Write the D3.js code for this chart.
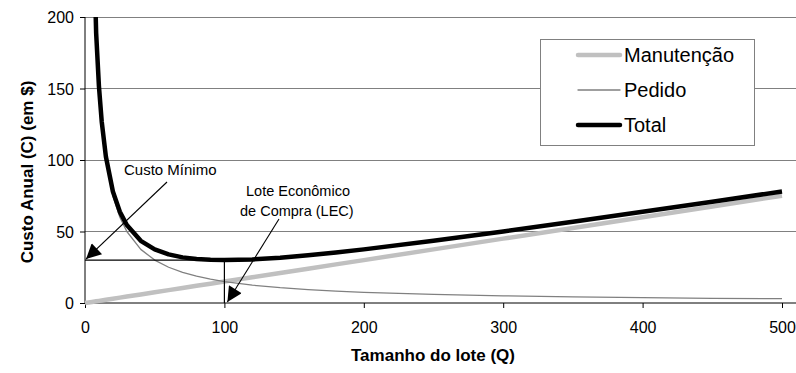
<!DOCTYPE html>
<html>
<head>
<meta charset="utf-8">
<script src="https://cdn.jsdelivr.net/npm/d3@7/dist/d3.min.js"></script>
<style>
  html, body { margin: 0; padding: 0; background: #fff; }
  svg { display: block; }
  text { font-family: "Liberation Sans", Arial, sans-serif; fill: #000; }
</style>
</head>
<body>
<svg id="chart" width="796" height="373"></svg>
<script>
// Lot size Q and the three annual cost curves (em $)
const lotSize = [0, 5, 8, 10, 12, 15, 20, 25, 30, 40, 50, 60, 70, 80, 90, 100,
  120, 140, 160, 180, 200, 250, 300, 350, 400, 450, 500];
const custoManutencao = [0, 0.75, 1.2, 1.5, 1.8, 2.25, 3, 3.75, 4.5, 6, 7.5, 9, 10.5, 12, 13.5, 15,
  18, 21, 24, 27, 30, 37.5, 45, 52.5, 60, 67.5, 75];
const custoPedido = [null, 300, 187.5, 150, 125, 100, 75, 60, 50, 37.5, 30, 25, 21.4, 18.75, 16.7, 15,
  12.5, 10.7, 9.4, 8.3, 7.5, 6, 5, 4.3, 3.75, 3.3, 3];
const custoTotal = [null, 300.75, 188.7, 151.5, 126.8, 102.25, 78, 63.75, 54.5, 43.5, 37.5, 34, 31.9, 30.75, 30.2, 30,
  30.5, 31.7, 33.4, 35.3, 37.5, 43.5, 50, 56.8, 63.75, 70.8, 78];

const xTicks = [0, 100, 200, 300, 400, 500];
const yTicks = [0, 50, 100, 150, 200];
const seriesNames = ["Manutenção", "Pedido", "Total"];

// Minimum-cost point (LEC) highlighted by the guide lines
const lec = { q: 100, custo: 30 };

const svg = d3.select("#chart");
const W = 796;

const x = d3.scaleLinear().domain([0, 500]).range([85, 782]);
const y = d3.scaleLinear().domain([0, 200]).range([303, 17]);

// horizontal gridlines
svg.append("g")
  .selectAll("line")
  .data(yTicks.filter(d => d > 0))
  .join("line")
  .attr("x1", x(0)).attr("x2", W)
  .attr("y1", d => y(d)).attr("y2", d => y(d))
  .attr("stroke", "#808080").attr("stroke-width", 1)
  .attr("shape-rendering", "crispEdges");

// y axis
const yAxis = svg.append("g")
  .attr("transform", `translate(${x(0)},0)`)
  .call(d3.axisLeft(y).tickValues(yTicks).tickSize(5).tickPadding(6));
yAxis.select(".domain").attr("stroke", "#000").attr("d", `M0,${y(200)}V${y(0)}`);
yAxis.selectAll(".tick line").attr("stroke", "#000");
yAxis.selectAll("text").attr("font-size", 16).attr("dy", "0.35em")
  .attr("font-family", "'Liberation Sans', Arial, sans-serif");

// x axis
const xAxis = svg.append("g")
  .attr("transform", `translate(0,${y(0)})`)
  .call(d3.axisBottom(x).tickValues(xTicks).tickSize(5).tickPadding(14));
xAxis.select(".domain").attr("stroke", "#000").attr("d", `M${x(0)},0H${W}`);
xAxis.selectAll(".tick line").attr("stroke", "#000");
xAxis.selectAll("text").attr("font-size", 16)
  .attr("font-family", "'Liberation Sans', Arial, sans-serif");

// clip the curves at the top of the plot
svg.append("clipPath").attr("id", "plotClip")
  .append("rect").attr("x", x(0) - 5).attr("y", y(200)).attr("width", W).attr("height", 300);

const rows = lotSize.map((q, i) => ({ q, m: custoManutencao[i], p: custoPedido[i], t: custoTotal[i] }));
const lineFor = key => d3.line()
  .defined(d => d[key] != null)
  .x(d => x(d.q)).y(d => y(d[key]));

const series = [
  { key: "m", color: "#c0c0c0", width: 4.5 },
  { key: "p", color: "#808080", width: 1.3 },
  { key: "t", color: "#000000", width: 4.5 }
];

const curves = svg.append("g").attr("clip-path", "url(#plotClip)");
series.forEach(s => {
  curves.append("path")
    .datum(rows)
    .attr("d", lineFor(s.key))
    .attr("fill", "none")
    .attr("stroke", s.color)
    .attr("stroke-width", s.width)
    .attr("stroke-linejoin", "round");
});

// guide lines to the minimum
svg.append("line")
  .attr("x1", x(0)).attr("x2", x(lec.q))
  .attr("y1", y(lec.custo)).attr("y2", y(lec.custo))
  .attr("stroke", "#000").attr("stroke-width", 1.2);
svg.append("line")
  .attr("x1", x(lec.q)).attr("x2", x(lec.q))
  .attr("y1", y(lec.custo)).attr("y2", y(0))
  .attr("stroke", "#000").attr("stroke-width", 1.2);

// arrowhead marker
svg.append("defs").append("marker")
  .attr("id", "arrow")
  .attr("viewBox", "0 0 10 10")
  .attr("refX", 10).attr("refY", 5)
  .attr("markerWidth", 24).attr("markerHeight", 15)
  .attr("markerUnits", "userSpaceOnUse")
  .attr("orient", "auto")
  .append("path").attr("d", "M0,0L10,5L0,10Z").attr("fill", "#000");

// annotation: minimum cost
svg.append("text")
  .attr("x", 124).attr("y", 175)
  .attr("font-size", 15)
  .text("Custo Mínimo");
svg.append("line")
  .attr("x1", 167).attr("y1", 182)
  .attr("x2", x(0) + 1).attr("y2", y(lec.custo) - 1)
  .attr("stroke", "#000").attr("stroke-width", 1.1)
  .attr("marker-end", "url(#arrow)");

// annotation: economic order quantity
const lecText = svg.append("text").attr("font-size", 14.5);
lecText.append("tspan").attr("x", 246).attr("y", 196).text("Lote Econômico");
lecText.append("tspan").attr("x", 240).attr("y", 216).text("de Compra (LEC)");
svg.append("line")
  .attr("x1", 279).attr("y1", 219)
  .attr("x2", x(lec.q) + 3).attr("y2", y(0) - 1)
  .attr("stroke", "#000").attr("stroke-width", 1.1)
  .attr("marker-end", "url(#arrow)");

// axis titles
svg.append("text")
  .attr("x", 433).attr("y", 361)
  .attr("text-anchor", "middle")
  .attr("font-size", 17).attr("font-weight", "bold")
  .text("Tamanho do lote (Q)");
svg.append("text")
  .attr("transform", "translate(33,172) rotate(-90)")
  .attr("text-anchor", "middle")
  .attr("font-size", 17).attr("font-weight", "bold")
  .text("Custo Anual (C) (em $)");

// legend
const legend = svg.append("g");
legend.append("rect")
  .attr("x", 540.5).attr("y", 39.5).attr("width", 214).attr("height", 106)
  .attr("fill", "#fff").attr("stroke", "#808080").attr("stroke-width", 1);
const legendRows = [55, 90, 125];
series.forEach((s, i) => {
  legend.append("line")
    .attr("x1", 578).attr("x2", 620)
    .attr("y1", legendRows[i]).attr("y2", legendRows[i])
    .attr("stroke", s.color).attr("stroke-width", s.width)
    .attr("stroke-linecap", "round");
  legend.append("text")
    .attr("x", 624).attr("y", legendRows[i])
    .attr("dy", "0.35em")
    .attr("font-size", 20)
    .text(seriesNames[i]);
});
</script>
</body>
</html>
